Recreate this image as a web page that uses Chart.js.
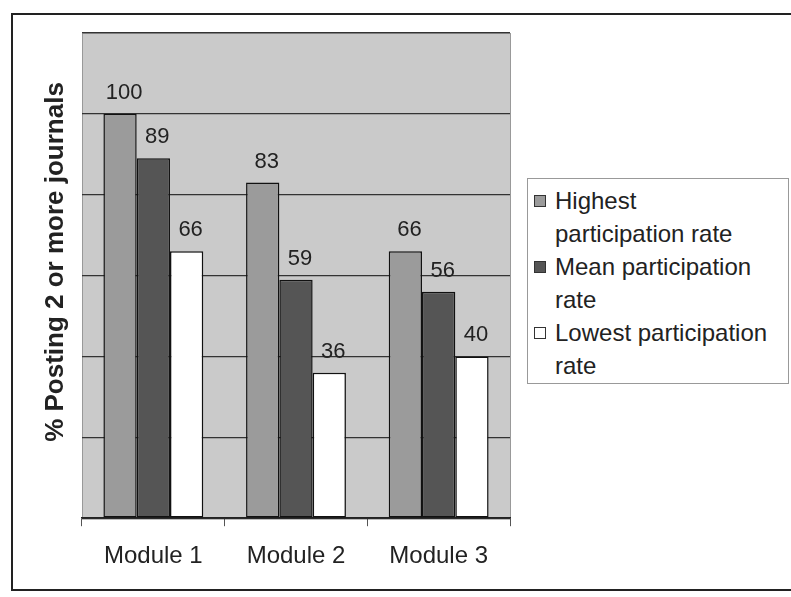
<!DOCTYPE html>
<html>
<head>
<meta charset="utf-8">
<script src="https://cdn.jsdelivr.net/npm/chart.js@4.4.0/dist/chart.umd.min.js"></script>
<style>
  body { margin: 0; background: #fff; }
  #wrap { position: relative; width: 791px; height: 597px; }
  #legend {
    position: absolute; left: 527px; top: 178px; width: 262px; height: 206px;
    border: 1px solid #999; background: #fff; box-sizing: border-box;
    padding: 5px 0 0 0; font-family: Arial, "Liberation Sans", sans-serif;
    font-size: 24px; line-height: 33px; color: #222;
  }
  .item { position: relative; padding-left: 27px; white-space: nowrap; }
  .sw { position: absolute; left: 6px; top: 11px; width: 10px; height: 10px; border: 1px solid #333; }
</style>
</head>
<body>
<div id="wrap">
  <canvas id="partChart" width="791" height="597"></canvas>
  <div id="legend"></div>
</div>
<script>
var modules = ["Module 1", "Module 2", "Module 3"];
var seriesNames = ["Highest participation rate", "Mean participation rate", "Lowest participation rate"];
var legendLines = [["Highest", "participation rate"], ["Mean participation", "rate"], ["Lowest participation", "rate"]];
var highest = [100, 83, 66];
var mean = [89, 59, 56];
var lowest = [66, 36, 40];
var seriesColors = ["#9b9b9b", "#555555", "#ffffff"];
var yTitle = "% Posting 2 or more journals";

var frame = {
  id: "frame",
  beforeDraw: function (chart) {
    var ctx = chart.ctx, a = chart.chartArea;
    ctx.save();
    ctx.fillStyle = "#cacaca";
    ctx.fillRect(a.left, a.top, a.right - a.left, a.bottom - a.top);
    ctx.strokeStyle = "#999";
    ctx.lineWidth = 1;
    ctx.strokeRect(a.left + 0.5, a.top + 0.5, a.right - a.left, a.bottom - a.top);
    ctx.strokeStyle = "#222";
    ctx.lineWidth = 2;
    ctx.strokeRect(12, 14, 800, 576);
    ctx.restore();
  },
  afterDraw: function (chart) {
    var ctx = chart.ctx;
    ctx.save();
    ctx.beginPath();
    ctx.rect(20, 78, 70, 500);
    ctx.clip();
    ctx.translate(56, 262);
    ctx.rotate(-Math.PI / 2);
    ctx.font = "bold 26px Arial, 'Liberation Sans', sans-serif";
    ctx.fillStyle = "#222";
    ctx.textAlign = "center";
    ctx.textBaseline = "middle";
    ctx.fillText(yTitle, 0, 0);
    ctx.restore();
  },
  afterDatasetsDraw: function (chart) {
    var ctx = chart.ctx;
    ctx.save();
    ctx.font = "22px Arial, 'Liberation Sans', sans-serif";
    ctx.fillStyle = "#222";
    ctx.textAlign = "center";
    ctx.textBaseline = "alphabetic";
    chart.data.datasets.forEach(function (ds, i) {
      chart.getDatasetMeta(i).data.forEach(function (bar, j) {
        ctx.fillText(ds.data[j], bar.x + 4, bar.y - 15);
      });
    });
    ctx.restore();
  }
};

var myChart = new Chart(document.getElementById("partChart").getContext("2d"), {
  type: "bar",
  data: {
    labels: modules,
    datasets: [
      { label: seriesNames[0], data: highest, backgroundColor: seriesColors[0] },
      { label: seriesNames[1], data: mean, backgroundColor: seriesColors[1] },
      { label: seriesNames[2], data: lowest, backgroundColor: seriesColors[2] }
    ].map(function (d) {
      d.borderColor = "#111";
      d.borderWidth = 1.5;
      d.borderSkipped = false;
      d.categoryPercentage = 0.7;
      d.barPercentage = 1.0;
      return d;
    })
  },
  options: {
    responsive: false,
    animation: false,
    layout: { padding: { left: 82, right: 281, top: 33, bottom: 10 } },
    plugins: {
      legend: { display: false },
      tooltip: { enabled: false }
    },
    scales: {
      x: {
        grid: { drawOnChartArea: false, drawTicks: true, tickLength: 8, color: "#555", offset: true },
        border: { color: "#222", width: 1.5 },
        ticks: { color: "#222", padding: 16, font: { size: 24, family: "Arial, 'Liberation Sans', sans-serif" } }
      },
      y: {
        min: 0,
        max: 120,
        ticks: { display: false, stepSize: 20 },
        grid: { color: "#333", lineWidth: 1.2, drawTicks: false },
        border: { display: false }
      }
    }
  },
  plugins: [frame]
});

var legendBox = document.getElementById("legend");
seriesNames.forEach(function (name, i) {
  var item = document.createElement("div");
  item.className = "item";
  item.title = name;
  item.innerHTML = '<span class="sw" style="background:' + seriesColors[i] + '"></span>' + legendLines[i].join("<br>");
  legendBox.appendChild(item);
});
</script>
</body>
</html>
